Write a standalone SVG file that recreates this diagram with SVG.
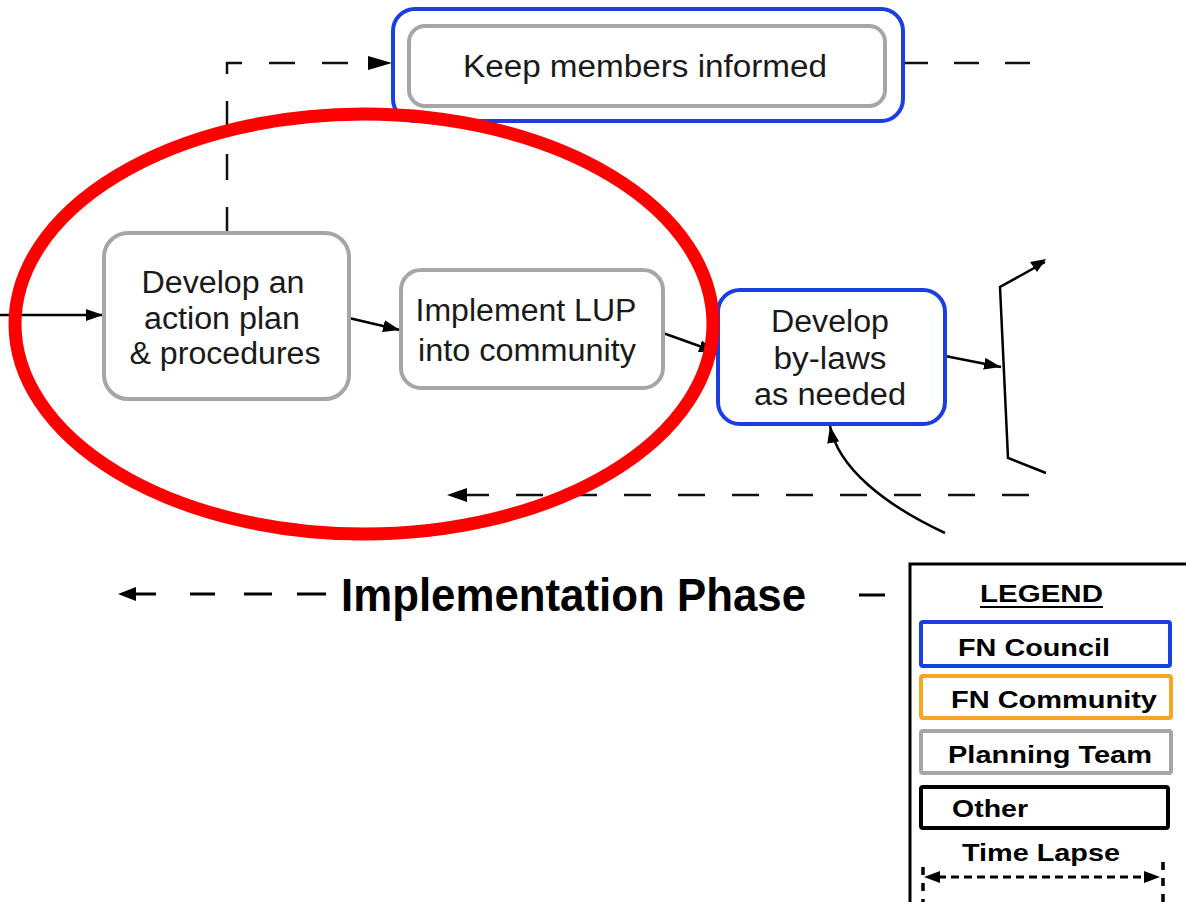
<svg xmlns="http://www.w3.org/2000/svg" width="1186" height="902" viewBox="0 0 1186 902">
<style>
.t{font-family:"Liberation Sans",Arial,sans-serif;fill:#1a1a1a;text-anchor:middle}
.n{font-size:31px}
.b{font-family:"Liberation Sans",Arial,sans-serif;font-weight:bold;fill:#000}
.gray{fill:#fff;stroke:#a6a6a6;stroke-width:4}
.blue{fill:#fff;stroke:#1a3fe0;stroke-width:4}
.ln{fill:none;stroke:#000;stroke-width:2.5}
.dash{fill:none;stroke:#111;stroke-width:2.5;stroke-dasharray:26 27}
</style>
<defs>
<marker id="ah" markerUnits="userSpaceOnUse" markerWidth="18" markerHeight="14" refX="17" refY="6" orient="auto">
<path d="M0,0 L17,6 L0,12 z" fill="#000"/>
</marker>
</defs>
<rect width="1186" height="902" fill="#fff"/>

<g id="connectors">
<path class="dash" d="M227,233 L227,63 L369,63"/>
<path d="M368,56 L392,63 L368,70 z" fill="#000"/>
<path class="dash" d="M903,63 L1033,63" style="stroke-dasharray:25 26"/>
<path class="ln" d="M0,315 L103,315" marker-end="url(#ah)"/>
<path class="ln" d="M349,318 L400,330" marker-end="url(#ah)"/>
<path class="ln" d="M663,333 L716,352" marker-end="url(#ah)"/>
<path class="ln" d="M945,356 L1001,367" marker-end="url(#ah)"/>
<path class="ln" d="M1045,262 L1000,287 L1008,458 L1046,473"/>
<path d="M1030,262 L1046,259 L1037,272 z" fill="#000"/>
<path class="ln" d="M945,533 C885,505 838,468 830,426" marker-end="url(#ah)"/>
<path class="dash" d="M1029,495 L467,495" style="stroke-dasharray:27 27"/>
<path d="M467,488 L447,495 L467,502 z" fill="#000"/>
</g>

<g id="node-keep">
<rect class="blue" x="393" y="9" width="510" height="112" rx="22"/>
<rect class="gray" x="409" y="26" width="476" height="80" rx="16"/>
<text class="t n" x="645" y="77" textLength="364" lengthAdjust="spacingAndGlyphs">Keep members informed</text>
</g>

<g id="node-action">
<rect class="gray" x="104" y="233" width="245" height="166" rx="24"/>
<text class="t n" x="223" y="293" textLength="163" lengthAdjust="spacingAndGlyphs">Develop an</text>
<text class="t n" x="222" y="329" textLength="156" lengthAdjust="spacingAndGlyphs">action plan</text>
<text class="t n" x="225" y="364" textLength="191" lengthAdjust="spacingAndGlyphs">&amp; procedures</text>
</g>

<g id="node-implement">
<rect class="gray" x="401" y="270" width="262" height="118" rx="20"/>
<text class="t n" x="526" y="321" textLength="221" lengthAdjust="spacingAndGlyphs">Implement LUP</text>
<text class="t n" x="527" y="361" textLength="218" lengthAdjust="spacingAndGlyphs">into community</text>
</g>

<g id="node-bylaws">
<rect class="blue" x="718" y="290" width="227" height="134" rx="22"/>
<text class="t n" x="830" y="332" textLength="118" lengthAdjust="spacingAndGlyphs">Develop</text>
<text class="t n" x="830" y="369" textLength="113" lengthAdjust="spacingAndGlyphs">by-laws</text>
<text class="t n" x="830" y="405" textLength="152" lengthAdjust="spacingAndGlyphs">as needed</text>
</g>

<g id="phase">
<path d="M136,587 L118,594 L136,601 z" fill="#000"/>
<path d="M135,594 L156,594 M190,594 L215,594 M244,594 L272,594 M297,594 L326,594 M859,595 L885,595" stroke="#000" stroke-width="3"/>
<text class="b" x="341" y="611" font-size="46" textLength="465" lengthAdjust="spacingAndGlyphs">Implementation Phase</text>
</g>

<g id="red-ellipse">
<ellipse cx="364" cy="324" rx="349" ry="210" fill="none" stroke="#ff0000" stroke-width="13"/>
</g>

<g id="legend">
<rect x="910" y="564" width="290" height="360" fill="#fff" stroke="#000" stroke-width="3"/>
<text class="b" x="980" y="602" font-size="23" textLength="123" lengthAdjust="spacingAndGlyphs">LEGEND</text>
<line x1="980" y1="607" x2="1103" y2="607" stroke="#000" stroke-width="2"/>
<rect x="921" y="622" width="249" height="44" fill="#fff" stroke="#1a3fe0" stroke-width="4" rx="2"/>
<text class="b" x="958" y="656" font-size="23" textLength="152" lengthAdjust="spacingAndGlyphs">FN Council</text>
<rect x="921" y="676" width="250" height="42" fill="#fff" stroke="#f5a623" stroke-width="4" rx="2"/>
<text class="b" x="951" y="708" font-size="23" textLength="206" lengthAdjust="spacingAndGlyphs">FN Community</text>
<rect x="921" y="731" width="250" height="42" fill="#fff" stroke="#a6a6a6" stroke-width="4" rx="2"/>
<text class="b" x="948" y="763" font-size="23" textLength="204" lengthAdjust="spacingAndGlyphs">Planning Team</text>
<rect x="921" y="787" width="247" height="41" fill="#fff" stroke="#000" stroke-width="4" rx="2"/>
<text class="b" x="952" y="817" font-size="23" textLength="76" lengthAdjust="spacingAndGlyphs">Other</text>
<text class="b" x="962" y="861" font-size="23" textLength="158" lengthAdjust="spacingAndGlyphs">Time Lapse</text>
<line x1="938" y1="877" x2="1146" y2="877" stroke="#000" stroke-width="3" stroke-dasharray="8 5"/>
<path d="M940,871 L924,877 L940,883 z" fill="#000"/>
<path d="M1144,871 L1160,877 L1144,883 z" fill="#000"/>
<line x1="923" y1="867" x2="923" y2="902" stroke="#000" stroke-width="3.5" stroke-dasharray="8 8"/>
<line x1="1163" y1="862" x2="1163" y2="902" stroke="#000" stroke-width="3.5" stroke-dasharray="8 8"/>
</g>
</svg>
